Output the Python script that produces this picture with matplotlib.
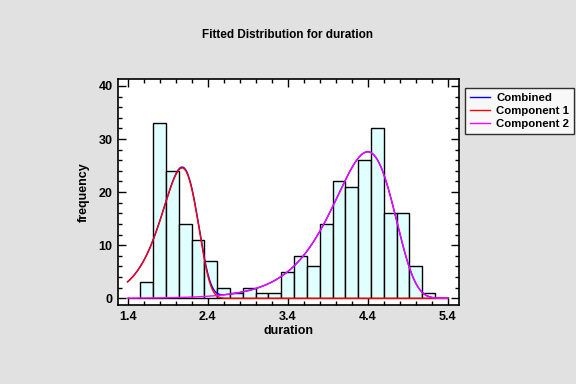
import numpy as np
import matplotlib
matplotlib.use("Agg")
import matplotlib.pyplot as plt
from matplotlib.ticker import MultipleLocator

# Histogram of duration: 25 classes from 1.4 to 5.4
bin_lo = 1.4
bin_hi = 5.4
counts = [0, 3, 33, 24, 14, 11, 7, 2, 1, 2, 1, 1, 5, 8, 6,
          14, 22, 21, 26, 32, 16, 16, 6, 1, 0]

# Fitted mixture (smallest extreme value components): weight, mode, scale
weights = [0.345, 0.655]
modes = [2.08, 4.40]
scales = [0.225, 0.38]

labels = ["Combined", "Component 1", "Component 2"]
colors = ["#0000ff", "#ff0000", "#ff00ff"]

n_obs = sum(counts)
edges = np.linspace(bin_lo, bin_hi, len(counts) + 1)
width = edges[1] - edges[0]


def sev_pdf(x, a, b):
    z = (x - a) / b
    return np.exp(z - np.exp(z)) / b


plt.rcParams["font.family"] = ["Liberation Sans", "DejaVu Sans"]
plt.rcParams["font.weight"] = "bold"

fig = plt.figure(figsize=(5.76, 3.84), dpi=100)
fig.patch.set_facecolor("#e1e1e1")
# frame spans x 118..459, y 79..305 px
ax = fig.add_axes([118 / 576, 1 - 305 / 384, 341 / 576, 226 / 384])
ax.set_facecolor("white")

ax.bar(edges[:-1], counts, width=width, align="edge",
       facecolor="#e0ffff", edgecolor="black", linewidth=1.0, zorder=2)

xs = np.linspace(bin_lo, bin_hi, 400)
scale = n_obs * width
comps = [w * sev_pdf(xs, a, b) * scale for w, a, b in zip(weights, modes, scales)]
combined = comps[0] + comps[1]
ax.plot(xs, combined, color=colors[0], lw=1.0, label=labels[0], zorder=3)
ax.plot(xs, comps[0], color=colors[1], lw=1.0, label=labels[1], zorder=4)
ax.plot(xs, comps[1], color=colors[2], lw=1.0, label=labels[2], zorder=5)

ax.set_xlim(1.28, 5.54)
ax.set_ylim(-1.26, 41.3)
ax.xaxis.set_major_locator(MultipleLocator(1.0))
ax.xaxis.set_minor_locator(MultipleLocator(0.2))
ax.yaxis.set_major_locator(MultipleLocator(10))
ax.yaxis.set_minor_locator(MultipleLocator(2))
ax.set_xticks([1.4, 2.4, 3.4, 4.4, 5.4])
ax.set_xticklabels(["1.4", "2.4", "3.4", "4.4", "5.4"])
ax.tick_params(which="both", direction="in", top=True, right=True,
               labelsize=9, width=1.0, pad=4)
ax.tick_params(which="major", length=6)
ax.tick_params(which="minor", length=3)
for sp in ax.spines.values():
    sp.set_linewidth(1.2)

ax.set_xlabel("duration", fontsize=9, fontweight="bold", labelpad=2)
ax.set_ylabel("frequency", fontsize=9, fontweight="bold", labelpad=6)
fig.text(0.5, 1 - 35 / 384, "Fitted Distribution for duration", ha="center",
         va="center", fontsize=8.5, fontweight="bold")

leg = fig.legend(loc="upper left", bbox_to_anchor=(465 / 576, 1 - 88 / 384),
                 frameon=True, fancybox=False, fontsize=8.2,
                 handlelength=1.8, handletextpad=0.55, borderpad=0.4,
                 labelspacing=0.3, borderaxespad=0)
leg.get_frame().set_edgecolor("black")
leg.get_frame().set_linewidth(1.0)

fig.savefig("out.png", dpi=100, facecolor=fig.get_facecolor())
